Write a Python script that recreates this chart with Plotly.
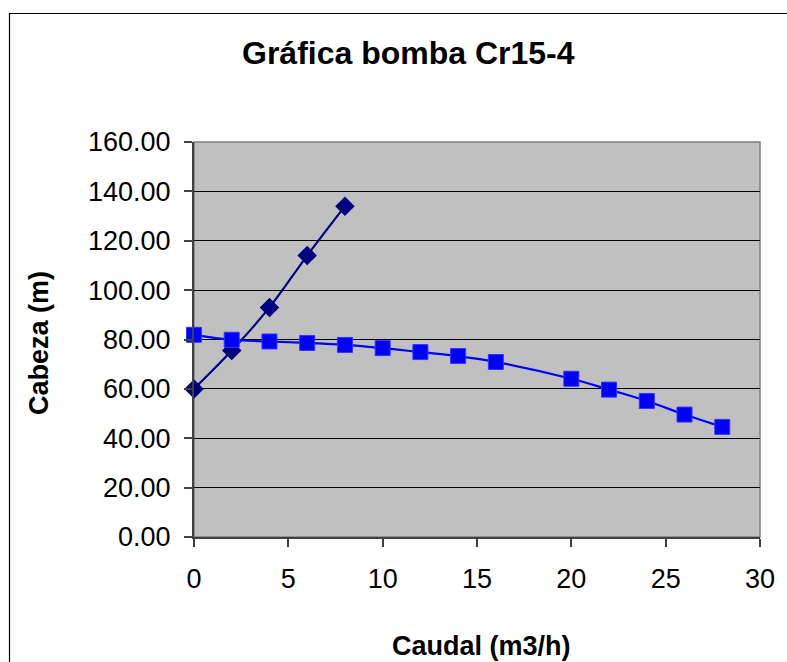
import plotly.graph_objects as go

# Curva del sistema (rombos) y curva de la bomba Cr15-4 (cuadrados)
caudal_sistema = [0, 2, 4, 6, 8]
cabeza_sistema = [60.0, 75.5, 93.0, 114.0, 134.0]

caudal_bomba = [0, 2, 4, 6, 8, 10, 12, 14, 16, 20, 22, 24, 26, 28]
cabeza_bomba = [81.9, 79.9, 79.2, 78.6, 77.8, 76.5, 74.9, 73.3, 70.9, 64.1, 59.7, 55.1, 49.6, 44.6]

W, H = 787, 662
L, R, T, B = 194, 760, 142, 537  # plot area in pixels


def px(x):
    return (x - L) / (R - L)


def py(y):
    return (B - y) / (B - T)


FONT = "Liberation Sans, Arial, sans-serif"

fig = go.Figure()
fig.add_trace(go.Scatter(
    x=caudal_sistema, y=cabeza_sistema, mode="lines+markers",
    line=dict(color="#000080", width=2.2, shape="spline"),
    marker=dict(symbol="diamond", size=15, color="#000080"),
    cliponaxis=False, showlegend=False,
))
fig.add_trace(go.Scatter(
    x=caudal_bomba, y=cabeza_bomba, mode="lines+markers",
    line=dict(color="#0000FF", width=2.2, shape="spline"),
    marker=dict(symbol="square", size=15, color="#0000FF",
                line=dict(color="#3333FF", width=1)),
    cliponaxis=False, showlegend=False,
))

fig.update_layout(
    width=W, height=H, autosize=False,
    margin=dict(l=L, r=W - R, t=T, b=H - B, pad=0),
    paper_bgcolor="white", plot_bgcolor="#C0C0C0",
    font=dict(family=FONT, color="black", size=27),
    xaxis=dict(
        range=[0, 30], tickvals=[0, 5, 10, 15, 20, 25, 30],
        showgrid=False, zeroline=False, showline=True,
        linecolor="#404040", linewidth=2,
        ticks="outside", ticklen=8, tickwidth=1.5, tickcolor="#404040",
        tickfont=dict(size=27, family=FONT), ticklabelstandoff=9,
    ),
    yaxis=dict(
        range=[0, 160], tickvals=[0, 20, 40, 60, 80, 100, 120, 140, 160],
        tickformat=".2f",
        showgrid=True, gridcolor="black", gridwidth=1.2, zeroline=False,
        showline=True, linecolor="#404040", linewidth=2,
        ticks="outside", ticklen=8, tickwidth=1.5, tickcolor="#404040",
        tickfont=dict(size=27, family=FONT), ticklabelstandoff=8,
    ),
    shapes=[
        # borde del área de trazado
        dict(type="rect", xref="paper", yref="paper", x0=0, y0=0, x1=1, y1=1,
             line=dict(color="#808080", width=1.5), layer="below"),
        # borde exterior del gráfico
        dict(type="rect", xref="paper", yref="paper",
             x0=px(9.5), y0=py(900), x1=px(900), y1=py(13.5),
             line=dict(color="black", width=1.2)),
    ],
    annotations=[
        dict(text="<b>Gráfica bomba Cr15-4</b>", xref="paper", yref="paper",
             x=px(408), y=py(53.5), xanchor="center", yanchor="middle",
             showarrow=False, font=dict(size=32, family=FONT)),
        dict(text="<b>Cabeza (m)</b>", xref="paper", yref="paper",
             x=px(39), y=py(343), xanchor="center", yanchor="middle",
             textangle=-90, showarrow=False, font=dict(size=27, family=FONT)),
        dict(text="<b>Caudal (m3/h)</b>", xref="paper", yref="paper",
             x=px(481), y=py(646), xanchor="center", yanchor="middle",
             showarrow=False, font=dict(size=27, family=FONT)),
    ],
)

fig.write_html("out.html")
